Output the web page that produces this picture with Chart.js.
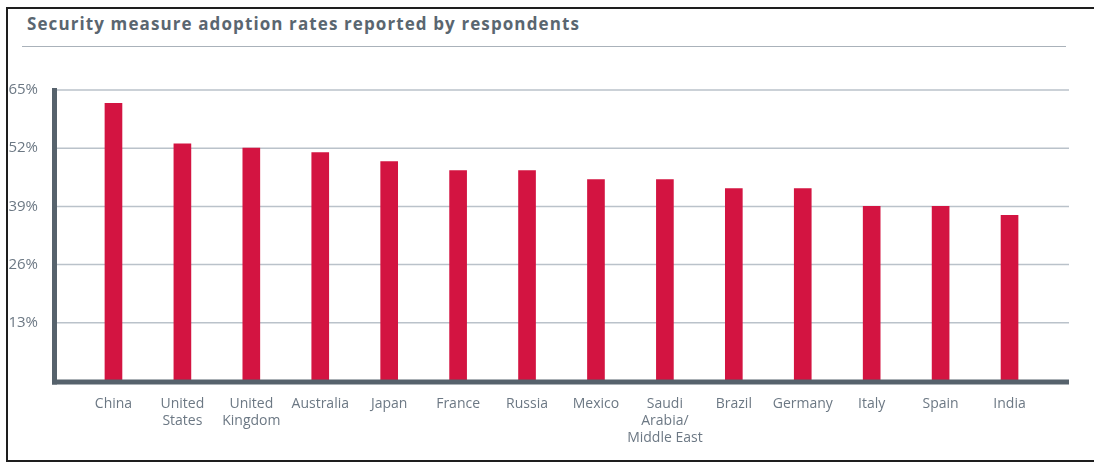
<!DOCTYPE html>
<html>
<head>
<meta charset="utf-8">
<script src="https://cdn.jsdelivr.net/npm/chart.js@4.4.0/dist/chart.umd.min.js"></script>
<style>
  html, body { margin: 0; padding: 0; background: #fff; }
  body { width: 1094px; height: 464px; position: relative; overflow: hidden; }
  #frame {
    position: absolute; left: 6px; top: 7px; width: 1100px; height: 451px; z-index: 2;
    border-left: 2px solid #1e1e1e; border-top: 2px solid #1e1e1e; border-bottom: 2px solid #1e1e1e;
    pointer-events: none;
  }
  #title {
    position: absolute; left: 27px; top: 12px;
    font-family: "Open Sans", sans-serif; font-weight: 700; font-size: 17px; letter-spacing: 1.1px;
    color: #5a6670; white-space: nowrap;
  }
  #rule { position: absolute; left: 22px; top: 46px; width: 1044px; height: 0; border-top: 1.5px solid #aab2ba; }
  #wrap { position: absolute; left: 0; top: 0; width: 1094px; height: 464px; }
</style>
</head>
<body>
<div id="frame"></div>
<div id="title">Security measure adoption rates reported by respondents</div>
<div id="rule"></div>
<div id="wrap"><canvas id="chart"></canvas></div>
<script>
// --- data ---
const countries = [
    'China', ['United', 'States'], ['United', 'Kingdom'], 'Australia', 'Japan', 'France', 'Russia',
    'Mexico', ['Saudi', 'Arabia/', 'Middle East'], 'Brazil', 'Germany', 'Italy', 'Spain', 'India'
];
const adoptionRates = [62, 53, 52, 51, 49, 47, 47, 45, 45, 43, 43, 39, 39, 37];
const yTicks = [13, 26, 39, 52, 65];

const barColor = '#d31441';
const axisColor = '#56626c';
const gridColor = '#bac2ca';
const labelColor = '#6c7884';

// grid + thick axes reach past the bar area, so draw them here from the scales
const axisLines = {
    id: 'axisLines',
    beforeDatasetsDraw(chart) {
        const { ctx, chartArea, scales: { y } } = chart;
        const x0 = chartArea.left - 27, x1 = chartArea.right + 25;
        ctx.save();
        ctx.strokeStyle = gridColor;
        ctx.lineWidth = 1.5;
        yTicks.forEach(v => {
            const py = y.getPixelForValue(v);
            ctx.beginPath();
            ctx.moveTo(x0, py);
            ctx.lineTo(x1, py);
            ctx.stroke();
        });
        ctx.restore();
    },
    afterDatasetsDraw(chart) {
        const { ctx, chartArea, scales: { y } } = chart;
        const x0 = chartArea.left - 27, x1 = chartArea.right + 25;
        const yZero = y.getPixelForValue(0) + 1;
        const yTop = y.getPixelForValue(yTicks[yTicks.length - 1]);
        ctx.save();
        ctx.fillStyle = axisColor;
        ctx.fillRect(x0, yZero - 2.5, x1 - x0, 5);
        ctx.fillRect(x0, yTop - 2, 5, yZero + 2.5 - (yTop - 2));
        ctx.restore();
    }
};

const ctx = document.getElementById('chart').getContext('2d');
new Chart(ctx, {
    type: 'bar',
    data: {
        labels: countries,
        datasets: [{
            data: adoptionRates,
            backgroundColor: barColor,
            barThickness: 17
        }]
    },
    options: {
        responsive: true,
        maintainAspectRatio: false,
        animation: false,
        layout: { padding: { left: 8, right: 50, top: 90, bottom: 0 } },
        plugins: { legend: { display: false }, tooltip: { enabled: false } },
        scales: {
            x: {
                offset: true,
                grid: { display: false, drawTicks: false },
                border: { display: false },
                ticks: {
                    color: labelColor,
                    font: { family: 'Open Sans', size: 14 },
                    padding: 15,
                    maxRotation: 0,
                    autoSkip: false
                },
                afterFit(scale) { scale.height = 83; }
            },
            y: {
                min: 0,
                max: 65,
                grid: { display: false, drawTicks: false },
                border: { display: false },
                afterBuildTicks(scale) { scale.ticks = yTicks.map(v => ({ value: v })); },
                ticks: {
                    color: labelColor,
                    font: { family: 'Open Sans', size: 15 },
                    padding: 41,
                    callback: v => v + '%'
                },
                afterFit(scale) { scale.width = 71; }
            }
        }
    },
    plugins: [axisLines]
});
</script>
</body>
</html>
